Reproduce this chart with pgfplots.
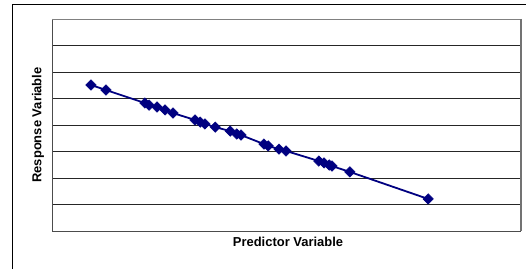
\documentclass[border=0pt]{standalone}
\usepackage{pgfplots}
\pgfplotsset{compat=1.18}
\usepackage{fontspec}
\setmainfont{Liberation Sans}
\definecolor{navyd}{RGB}{0,0,128}
\begin{document}
\begin{tikzpicture}[x=1bp,y=1bp]
\useasboundingbox (0,0) rectangle (526,269);
\draw[black,line width=1.2bp] (12.5,0) -- (12.5,264.5) -- (526,264.5);
\begin{axis}[
  at={(52bp,38bp)}, anchor=south west,
  scale only axis, width=469bp, height=212bp,
  xmin=0, xmax=10, ymin=0, ymax=8,
  xtick=\empty, ytick={1,...,7}, yticklabels={},
  major tick length=0pt,
  ymajorgrids, grid style={black!85,line width=0.8bp},
  axis line style={draw=none},
  clip=false,
]
\draw[black!70,line width=0.8bp] (axis cs:0,8) -- (axis cs:0,0) -- (axis cs:10,0);
\draw[black!50,line width=0.8bp] (axis cs:0,8) -- (axis cs:10,8);
\draw[black!55,line width=1.6bp] (axis cs:10,8) -- (axis cs:10,0);
\addplot[color=navyd, line width=1.8bp, mark=square*, mark size=3.7bp,
  mark options={rotate=45, fill=navyd, draw=navyd, line width=0.5bp}] coordinates {
(0.83,5.51) (1.15,5.32) (1.98,4.83) (2.07,4.75) (2.24,4.68) (2.41,4.57)
(2.58,4.45) (3.05,4.19) (3.16,4.11) (3.26,4.04) (3.48,3.92) (3.80,3.77)
(3.94,3.66) (4.03,3.62) (4.52,3.28) (4.61,3.21) (4.84,3.09) (4.99,3.02)
(5.69,2.64) (5.80,2.57) (5.91,2.49) (5.97,2.45) (6.35,2.23) (8.02,1.21)
};
\end{axis}
\node[font=\bfseries\fontsize{13}{15}\selectfont, anchor=center] at (288,27) {Predictor Variable};
\node[font=\bfseries\fontsize{13}{15}\selectfont, anchor=center, rotate=90] at (38,144) {Response Variable};
\end{tikzpicture}
\end{document}
